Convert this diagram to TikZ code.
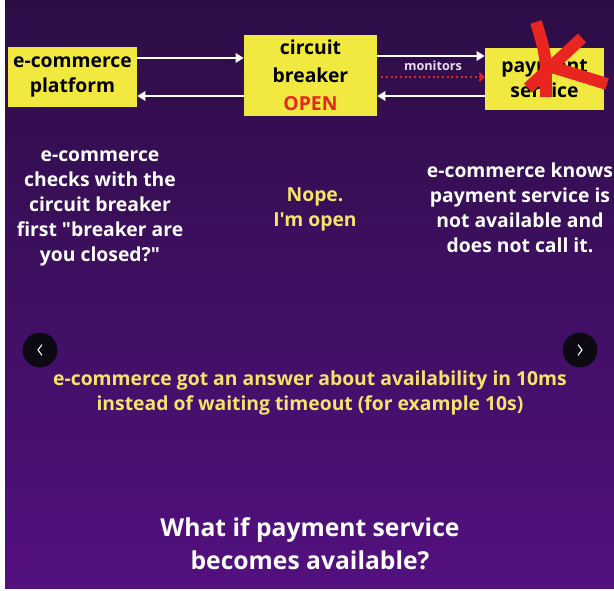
\documentclass[tikz,border=0pt]{standalone}
\usepackage{fontspec}
\setmainfont{Open Sans}[Ligatures=TeXOff]
\usetikzlibrary{positioning,arrows.meta}
\definecolor{cbgtop}{HTML}{2C0E45}
\definecolor{cbgbot}{HTML}{53107F}
\definecolor{cbox}{HTML}{F1E93F}
\definecolor{cred}{HTML}{E8251F}
\definecolor{cyel}{HTML}{F4E46A}
\definecolor{cnav}{HTML}{0D0912}
\definecolor{cmon}{HTML}{E6DDF0}

\begin{document}
\begin{tikzpicture}[x=0.75pt,y=-0.75pt,
      font=\fontsize{14.5}{18.75}\selectfont\bfseries,
      box/.style={fill=cbox,text=black,align=center,inner sep=0pt},
      note/.style={text=white,align=center,inner sep=0pt},
      hint/.style={note,text=cyel},
      ar/.style={-{Triangle[length=6pt,width=7pt]},draw=white,line width=2.2pt},
      mon/.style={-{Straight Barb[length=3pt,width=6pt]},draw=cred,dotted,line width=1.5pt},
      nav/.style={circle,fill=cnav,minimum size=26pt,inner sep=0pt},
      cross/.style={draw=cred,line width=9pt}]

    \useasboundingbox (0,0) rectangle (614,591);
    \fill[white] (0,0) rectangle (614,591);
    \shade[top color=cbgtop,bottom color=cbgbot] (5,0) rectangle (614,588);

    % boxes
    \node[box,minimum width=96.75pt,minimum height=45pt] (plat) at (72.5,77) {e-commerce\\platform};
    \node[box,minimum width=99.75pt,minimum height=60.75pt,
          font=\fontsize{14.5}{21}\selectfont\bfseries] (cb) at (310.5,75.5)
          {circuit\\breaker\\\textcolor{cred}{OPEN}};
    \node[box,minimum width=89.25pt,minimum height=46.5pt] (pay) at (544.5,79) {payment\\service};

    \coordinate (r1) at (0,58);
    \coordinate (r2) at (0,96);
    \coordinate (r3) at (0,56);
    \coordinate (r4) at (0,77);

    \draw[ar] (plat.east |- r1) -- (cb.west |- r1);
    \draw[ar] (cb.west |- r2) -- (plat.east |- r2);
    \draw[ar] (cb.east |- r3) -- (pay.west |- r3);
    \draw[mon] ([xshift=3pt]cb.east |- r4) -- (pay.west |- r4)
      node[midway,above=1pt,text=cmon,font=\fontsize{9.5}{11}\selectfont\bfseries] (mlbl) {monitors};
    \draw[ar] (pay.west |- r2) -- (cb.east |- r2);

    % red cross
    \draw[cross] (536,22) .. controls (546,55) .. (546,97);
    \draw[cross] (582,38) -- (528,88);
    \draw[cross] (552,67) -- (607,84);

    % notes
    \node[note] (check) at (100,208) {e-commerce\\checks with the\\circuit breaker\\first "breaker are\\you closed?"};
    \node[hint] (nope) at (315,209) {Nope.\\I'm open};
    \node[note] (knows) at (520,208) {e-commerce knows\\payment service is\\not available and\\does not call it.};

    % nav buttons
    \node[nav] (prev) at (40,350) {};
    \node[nav] (next) at (580,350) {};
    \draw[white,line width=0.8pt] ([xshift=1.5pt,yshift=4pt]prev.center) -- ([xshift=-1.5pt]prev.center) -- ([xshift=1.5pt,yshift=-4pt]prev.center);
    \draw[white,line width=0.8pt] ([xshift=-1.5pt,yshift=4pt]next.center) -- ([xshift=1.5pt]next.center) -- ([xshift=-1.5pt,yshift=-4pt]next.center);

    \node[hint] (answer) at (310,393) {e-commerce got an answer about availability in 10ms\\instead of waiting timeout (for example 10s)};
    \node[note,font=\fontsize{18.5}{25}\selectfont\bfseries] (what) at (310,544) {What if payment service\\becomes available?};
  \end{tikzpicture}
\end{document}
